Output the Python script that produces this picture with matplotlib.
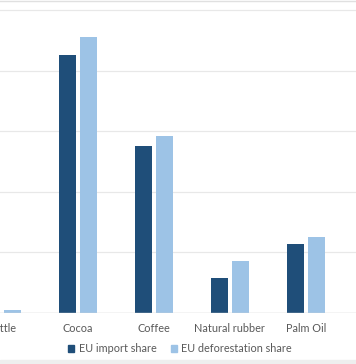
import numpy as np
from matplotlib import pyplot as plt
from matplotlib.patches import Patch, Rectangle
from matplotlib.lines import Line2D

# values (% share, gridline every 10)
categories = ['Cattle', 'Cocoa', 'Coffee', 'Natural rubber', 'Palm Oil']
import_share = [1.0, 42.6, 27.5, 5.8, 11.4]
deforest_share = [0.5, 45.5, 29.2, 8.5, 12.5]

dark = '#1f4e79'
light = '#9dc3e6'
txt = '#595959'

plt.rcParams['font.family'] = ['Lato', 'DejaVu Sans']

fig = plt.figure(figsize=(3.56, 3.64), dpi=100)
ax = fig.add_axes([0, 51 / 364, 1, 313 / 364])

x = np.arange(len(categories))
w = 0.224
ax.bar(x - 0.1415, import_share, w, color=dark, zorder=3)
ax.bar(x + 0.1415, deforest_share, w, color=light, zorder=3)

ax.set_xlim(-0.026, 4.66)
ax.set_ylim(0, 51.65)
ax.set_yticks(np.arange(0, 51, 10))
ax.yaxis.grid(True, color='#e8e8e8', lw=0.9, zorder=0)
ax.axhline(0, color='#d4d4d4', lw=1, zorder=4)
for s in ax.spines.values():
    s.set_visible(False)
ax.set_yticklabels([])
ax.tick_params(axis='y', length=0)
ax.set_xticks(x)
ax.set_xticklabels(categories, color=txt, fontsize=7.8)
ax.tick_params(axis='x', length=0, pad=7.5)

# top border line and grey strip at the bottom of the crop
fig.add_artist(Line2D([0, 1], [0.9985, 0.9985], color='#e0e0e0', lw=1))
fig.add_artist(Rectangle((0, 0), 1, 4 / 364, color='#eeeeee', transform=fig.transFigure))

handles = [Patch(color=dark), Patch(color=light)]
fig.legend(handles, ['EU import share', 'EU deforestation share'], loc='center',
           bbox_to_anchor=(180 / 356, 1 - 349 / 364), ncol=2, frameon=False,
           fontsize=7.8, labelcolor=txt, handlelength=0.6, handleheight=0.6,
           handletextpad=0.4, columnspacing=1.3)

fig.savefig('out.png', dpi=100)
